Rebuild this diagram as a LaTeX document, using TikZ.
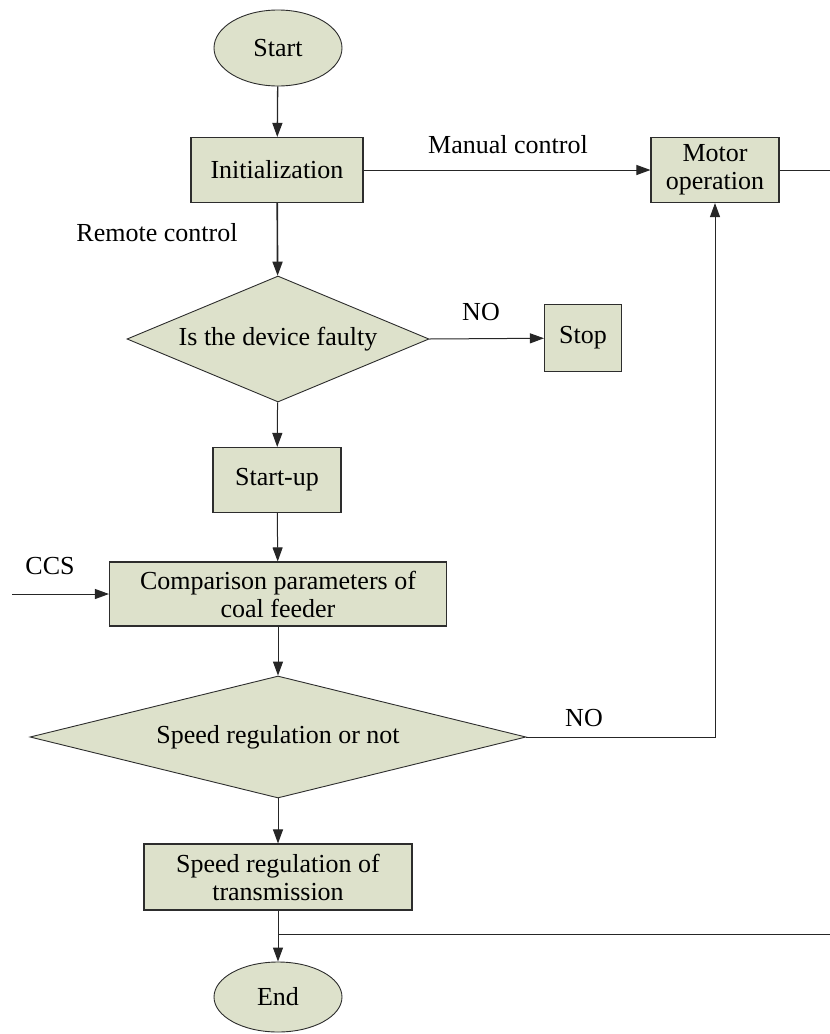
\documentclass[tikz,border=0pt]{standalone}
\usepackage{fontspec}
\setmainfont{Liberation Serif}
\usetikzlibrary{shapes.geometric,arrows.meta}
\definecolor{boxfill}{RGB}{221,225,203}
\definecolor{boxline}{RGB}{45,45,45}
\tikzset{
  base/.style={draw=boxline,fill=boxfill,line width=1.1pt,inner sep=0pt,
    font=\fontsize{26}{28}\selectfont,align=center},
  procbox/.style={base,rectangle},
  termbox/.style={base,ellipse,line width=0.9pt},
  decbox/.style={base,diamond,line width=0.9pt},
  lbl/.style={font=\fontsize{26}{28}\selectfont,inner sep=0pt},
  conn/.style={line width=1pt,draw=black!85},
  arr/.style={conn,-{Triangle[length=14pt,width=10pt]}},
}
\begin{document}
\begin{tikzpicture}[x=1pt,y=-1pt]
\useasboundingbox (0,0) rectangle (830,1034);
\node[termbox,minimum width=128pt,minimum height=76pt] (start) at (278,48) {Start};
\node[procbox,minimum width=172pt,minimum height=65pt] (init) at (277,170) {Initialization};
\node[procbox,minimum width=128pt,minimum height=65pt] (motor) at (715,170) {Motor\\operation};
\node[decbox,shape aspect=2.4,minimum width=302pt,minimum height=126pt] (dev) at (278,339) {Is the device faulty};
\node[procbox,minimum width=77pt,minimum height=67pt] (stop) at (583,338) {Stop};
\node[procbox,minimum width=128pt,minimum height=65pt] (startup) at (277,480) {Start-up};
\node[procbox,minimum width=337pt,minimum height=64pt] (comp) at (278,594) {Comparison parameters of\\coal feeder};
\node[decbox,shape aspect=4.07,minimum width=496pt,minimum height=122pt] (spd) at (278,737) {Speed regulation or not};
\node[procbox,minimum width=268pt,minimum height=66pt] (spdreg) at (278,877) {Speed regulation of\\transmission};
\node[termbox,minimum width=128pt,minimum height=70pt] (end) at (278,997) {End};

\coordinate (ccsin) at (12,594);
\coordinate (redge1) at (830,170);
\coordinate (junc) at (278,934);
\coordinate (redge2) at (830,934);
\coordinate (corner) at (715,737);

\node[lbl] (lman) at (508,145) {Manual control};
\node[lbl] (lrem) at (157,233) {Remote control};
\node[lbl] (lno1) at (481,312) {NO};
\node[lbl] (lccs) at (50,566) {CCS};
\node[lbl] (lno2) at (584,718) {NO};

\draw[arr,line width=1.3pt] (start) -- (init);
\draw[arr] (init) -- (motor);
\draw[conn] (motor.east) -- (redge1);
\draw[arr,line width=1.6pt] (init) -- (dev);
\draw[arr] (dev.east) -- (stop);
\draw[arr] (dev) -- (startup);
\draw[arr] (startup) -- (comp);
\draw[arr] (ccsin) -- (comp.west);
\draw[arr] (comp) -- (spd);
\draw[arr] (spd.east) -- (corner) -- (motor.south);
\draw[arr] (spd) -- (spdreg);
\draw[arr] (spdreg) -- (end);
\draw[conn] (junc) -- (redge2);
\end{tikzpicture}
\end{document}
